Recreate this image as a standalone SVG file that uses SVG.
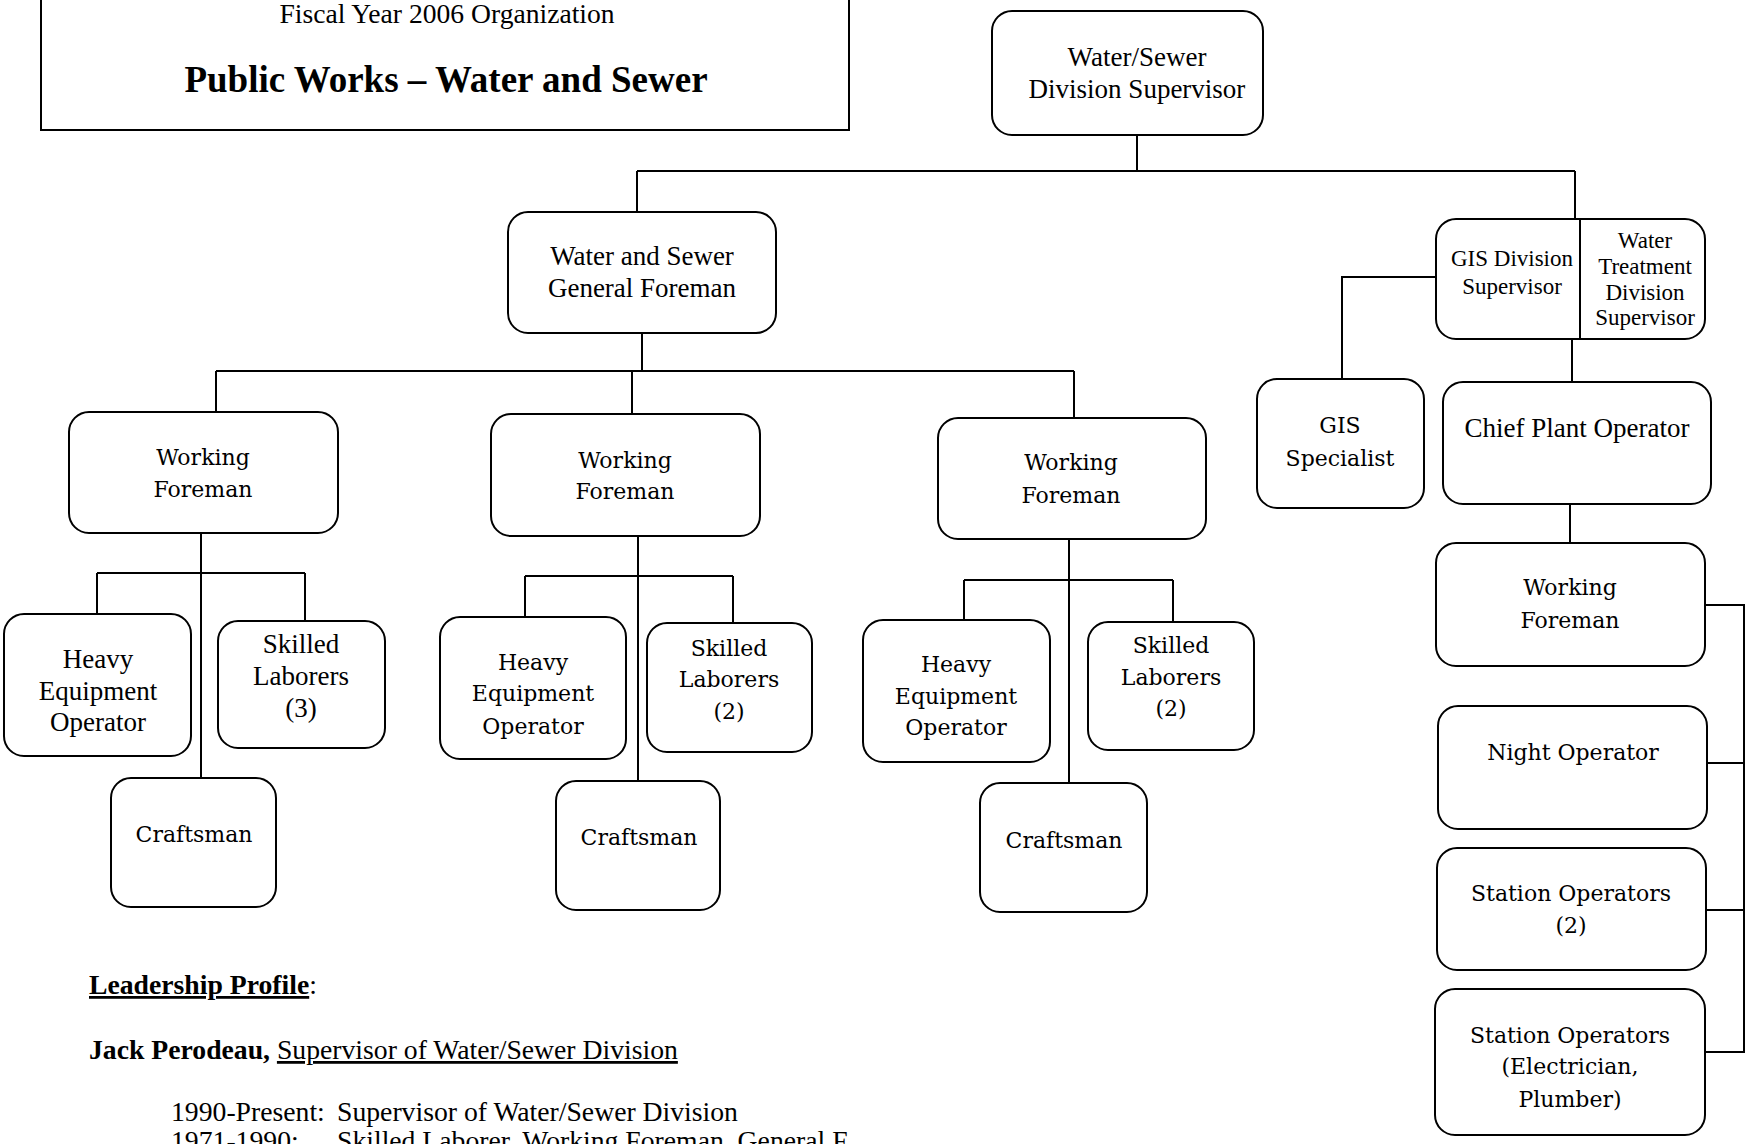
<svg xmlns="http://www.w3.org/2000/svg" width="1751" height="1144" viewBox="0 0 1751 1144">
<style>
.box{fill:#fff;stroke:#000;stroke-width:2}
.ln{stroke:#000;stroke-width:2;fill:none}
.t{font-family:"Liberation Serif","Times New Roman",serif;font-size:27px;text-anchor:middle;fill:#000}
.ts{font-family:"Liberation Serif","Times New Roman",serif;font-size:23px;text-anchor:middle;fill:#000}
.c{font-family:"DejaVu Serif",serif;font-size:22px;text-anchor:middle;fill:#000}
.p{font-family:"Liberation Serif","Times New Roman",serif;font-size:27.7px;fill:#000}
.b{font-weight:bold}
.u{text-decoration:underline}
</style>
<rect width="1751" height="1144" fill="#fff"/>

<g id="header">
<rect x="41" y="-10" width="808" height="140" fill="#fff" stroke="#000" stroke-width="2"/>
<text class="t" x="447" y="23" style="font-size:27.6px">Fiscal Year 2006 Organization</text>
<text class="t b" x="446" y="92" style="font-size:37px">Public Works – Water and Sewer</text>
</g>

<g id="connectors">
<path class="ln" d="M1137 135 V171 M637 171 H1575 M637 171 V212 M1575 171 V219"/>
<path class="ln" d="M642 333 V371 M216 371 H1074 M216 371 V412 M632 371 V414 M1074 371 V418"/>
<path class="ln" d="M201 533 V778 M97 573 H305 M97 573 V614 M305 573 V621"/>
<path class="ln" d="M638 536 V781 M525 576 H733 M525 576 V617 M733 576 V623"/>
<path class="ln" d="M1069 539 V783 M964 580 H1173 M964 580 V620 M1173 580 V622"/>
<path class="ln" d="M1436 277 H1342 V379 M1572 339 V382 M1570 504 V543"/>
<path class="ln" d="M1705 605 H1744 V1052 H1705 M1707 763 H1744 M1706 910 H1744"/>
</g>

<g id="division-supervisor">
<rect class="box" x="992" y="11" width="271" height="124" rx="20"/>
<text class="t" x="1137" y="66">Water/Sewer</text>
<text class="t" x="1137" y="98">Division Supervisor</text>
</g>

<g id="general-foreman">
<rect class="box" x="508" y="212" width="268" height="121" rx="20"/>
<text class="t" x="642" y="265">Water and Sewer</text>
<text class="t" x="642" y="297">General Foreman</text>
</g>

<g id="working-foreman-1">
<rect class="box" x="69" y="412" width="269" height="121" rx="20"/>
<text class="c" x="203" y="465">Working</text>
<text class="c" x="203" y="497">Foreman</text>
</g>
<g id="heavy-equipment-1">
<rect class="box" x="4" y="614" width="187" height="142" rx="20"/>
<text class="t" x="98" y="668">Heavy</text>
<text class="t" x="98" y="700">Equipment</text>
<text class="t" x="98" y="731">Operator</text>
</g>
<g id="skilled-laborers-1">
<rect class="box" x="218" y="621" width="167" height="127" rx="20"/>
<text class="t" x="301" y="653">Skilled</text>
<text class="t" x="301" y="685">Laborers</text>
<text class="t" x="301" y="717">(3)</text>
</g>
<g id="craftsman-1">
<rect class="box" x="111" y="778" width="165" height="129" rx="20"/>
<text class="c" x="194" y="842">Craftsman</text>
</g>

<g id="working-foreman-2">
<rect class="box" x="491" y="414" width="269" height="122" rx="20"/>
<text class="c" x="625" y="468">Working</text>
<text class="c" x="625" y="499">Foreman</text>
</g>
<g id="heavy-equipment-2">
<rect class="box" x="440" y="617" width="186" height="142" rx="20"/>
<text class="c" x="533" y="670">Heavy</text>
<text class="c" x="533" y="701">Equipment</text>
<text class="c" x="533" y="734">Operator</text>
</g>
<g id="skilled-laborers-2">
<rect class="box" x="647" y="623" width="165" height="129" rx="20"/>
<text class="c" x="729" y="656">Skilled</text>
<text class="c" x="729" y="687">Laborers</text>
<text class="c" x="729" y="719">(2)</text>
</g>
<g id="craftsman-2">
<rect class="box" x="556" y="781" width="164" height="129" rx="20"/>
<text class="c" x="639" y="845">Craftsman</text>
</g>

<g id="working-foreman-3">
<rect class="box" x="938" y="418" width="268" height="121" rx="20"/>
<text class="c" x="1071" y="470">Working</text>
<text class="c" x="1071" y="503">Foreman</text>
</g>
<g id="heavy-equipment-3">
<rect class="box" x="863" y="620" width="187" height="142" rx="20"/>
<text class="c" x="956" y="672">Heavy</text>
<text class="c" x="956" y="704">Equipment</text>
<text class="c" x="956" y="735">Operator</text>
</g>
<g id="skilled-laborers-3">
<rect class="box" x="1088" y="622" width="166" height="128" rx="20"/>
<text class="c" x="1171" y="653">Skilled</text>
<text class="c" x="1171" y="685">Laborers</text>
<text class="c" x="1171" y="716">(2)</text>
</g>
<g id="craftsman-3">
<rect class="box" x="980" y="783" width="167" height="129" rx="20"/>
<text class="c" x="1064" y="848">Craftsman</text>
</g>

<g id="gis-water-treatment-supervisors">
<rect class="box" x="1436" y="219" width="269" height="120" rx="20"/>
<line class="ln" x1="1580" y1="219" x2="1580" y2="339"/>
<text class="ts" x="1512" y="266">GIS Division</text>
<text class="ts" x="1512" y="294">Supervisor</text>
<text class="ts" x="1645" y="248">Water</text>
<text class="ts" x="1645" y="274">Treatment</text>
<text class="ts" x="1645" y="300">Division</text>
<text class="ts" x="1645" y="325">Supervisor</text>
</g>

<g id="gis-specialist">
<rect class="box" x="1257" y="379" width="167" height="129" rx="20"/>
<text class="c" x="1340" y="433">GIS</text>
<text class="c" x="1340" y="466">Specialist</text>
</g>

<g id="chief-plant-operator">
<rect class="box" x="1443" y="382" width="268" height="122" rx="20"/>
<text class="t" x="1577" y="437">Chief Plant Operator</text>
</g>

<g id="working-foreman-4">
<rect class="box" x="1436" y="543" width="269" height="123" rx="20"/>
<text class="c" x="1570" y="595">Working</text>
<text class="c" x="1570" y="628">Foreman</text>
</g>

<g id="night-operator">
<rect class="box" x="1438" y="706" width="269" height="123" rx="20"/>
<text class="c" x="1573" y="760">Night Operator</text>
</g>

<g id="station-operators-2">
<rect class="box" x="1437" y="848" width="269" height="122" rx="20"/>
<text class="c" x="1571" y="901">Station Operators</text>
<text class="c" x="1571" y="933">(2)</text>
</g>

<g id="station-operators-electrician-plumber">
<rect class="box" x="1435" y="989" width="270" height="146" rx="20"/>
<text class="c" x="1570" y="1043">Station Operators</text>
<text class="c" x="1570" y="1074">(Electrician,</text>
<text class="c" x="1570" y="1107">Plumber)</text>
</g>

<g id="leadership-profile">
<text class="p" x="89" y="994"><tspan class="b u">Leadership Profile</tspan>:</text>
<text class="p" x="89" y="1059"><tspan class="b">Jack Perodeau,</tspan> <tspan class="u">Supervisor of Water/Sewer Division</tspan></text>
<text class="p" x="171" y="1121">1990-Present:</text>
<text class="p" x="337" y="1121">Supervisor of Water/Sewer Division</text>
<text class="p" x="171" y="1150">1971-1990:</text>
<text class="p" x="337" y="1150">Skilled Laborer, Working Foreman, General F</text>
</g>
</svg>
